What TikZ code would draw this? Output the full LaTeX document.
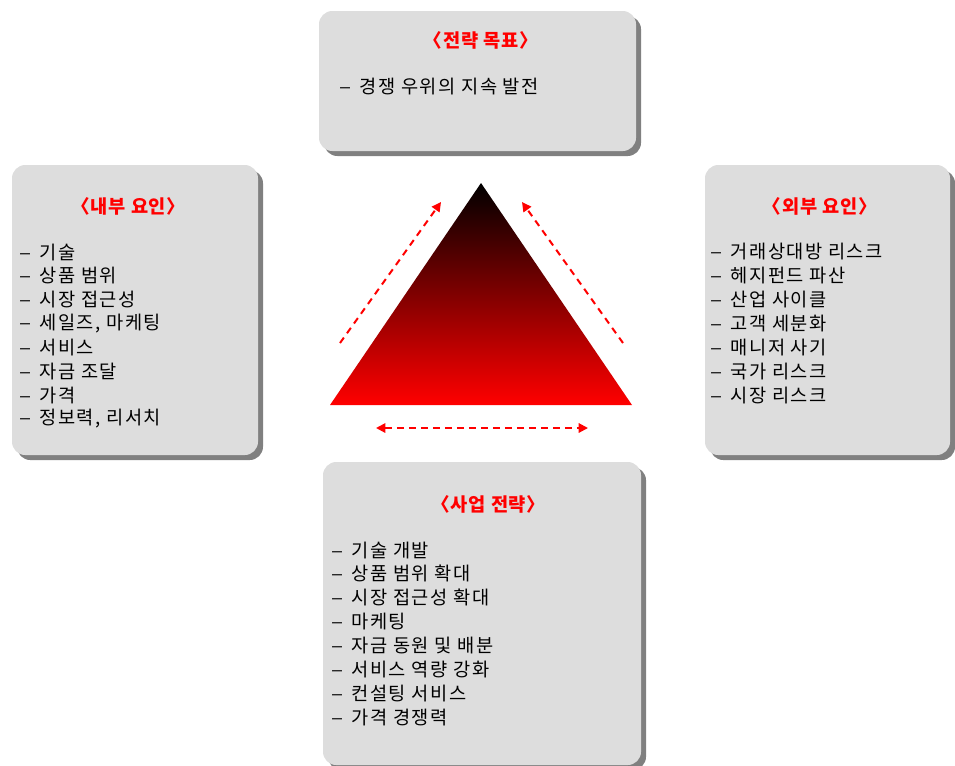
\documentclass[tikz,border=0pt]{standalone}
\usepackage{fontspec}
\setmainfont{Noto Sans CJK KR}
\usetikzlibrary{arrows.meta,shadows}
\definecolor{panelgray}{HTML}{DDDDDD}
\definecolor{shadegray}{HTML}{808080}
\definecolor{headred}{HTML}{FF0000}
\tikzset{redtip/.tip={Triangle[length=7pt,width=7pt]}}
\newcommand{\itemdash}{\scalebox{1.2}[1]{–}\hspace{0.45em}}

\begin{document}
\begin{tikzpicture}[x=0.75pt,y=-0.75pt,
  panel/.style={rectangle,rounded corners=10pt,fill=panelgray,inner sep=0pt,
    general shadow={fill=shadegray,shadow xshift=3.75pt,shadow yshift=-3.75pt}},
  heading/.style={font=\fontsize{14}{17}\selectfont\bfseries\addfontfeature{LetterSpace=4},text=headred,inner sep=0pt},
  item/.style={anchor=west,font=\fontsize{14}{17}\selectfont\addfontfeature{LetterSpace=8},inner sep=0pt},
  link/.style={headred,line width=1.5pt,dash pattern=on 5pt off 4pt}]
\clip (0,0) rectangle (955,765);

\node[panel,minimum width=237.75pt,minimum height=105pt] (goal) at (477.5,81) {};
\node[panel,minimum width=184.5pt,minimum height=217.5pt] (inner) at (135,310) {};
\node[panel,minimum width=183.75pt,minimum height=217.5pt] (outer) at (827.5,310) {};
\node[panel,minimum width=238.5pt,minimum height=227.25pt] (plan) at (482,613.5) {};

\node[heading] (goalhead) at (481,40) {〈전략 목표〉};
\node[heading] (innerhead) at (128.5,206) {〈내부 요인〉};
\node[heading] (outerhead) at (820,206) {〈외부 요인〉};
\node[heading] (planhead) at (488.5,504) {〈사업 전략〉};

\node[item] (goal1) at (339,87) {\itemdash 경쟁 우위의 지속 발전};

\foreach \t [count=\i] in {기술,상품 범위,시장 접근성,{세일즈, 마케팅},서비스,자금 조달,가격,{정보력, 리서치}}
  \node[item] (inner\i) at (19,{252+23.86*(\i-1)}) {\itemdash\t};

\foreach \t [count=\i] in {거래상대방 리스크,헤지펀드 파산,산업 사이클,고객 세분화,매니저 사기,국가 리스크,시장 리스크}
  \node[item] (outer\i) at (710,{252+23.86*(\i-1)}) {\itemdash\t};

\foreach \t [count=\i] in {기술 개발,상품 범위 확대,시장 접근성 확대,마케팅,자금 동원 및 배분,서비스 역량 강화,컨설팅 서비스,가격 경쟁력}
  \node[item] (plan\i) at (331,{550+23.86*(\i-1)}) {\itemdash\t};

\coordinate (apex) at (481,183);
\coordinate (baseL) at (330,405);
\coordinate (baseR) at (632,405);
\shade[top color=black,middle color=red!62!black,bottom color=red] (apex) -- (baseR) -- (baseL) -- cycle;

\coordinate (left0) at (340,343);
\coordinate (left1) at (441,202);
\coordinate (right0) at (623,343);
\coordinate (right1) at (522,202);
\coordinate (base0) at (376,428);
\coordinate (base1) at (588,428);
\draw[link,-redtip] (left0) -- (left1);
\draw[link,-redtip] (right0) -- (right1);
\draw[link,redtip-redtip] (base0) -- (base1);
\end{tikzpicture}
\end{document}
